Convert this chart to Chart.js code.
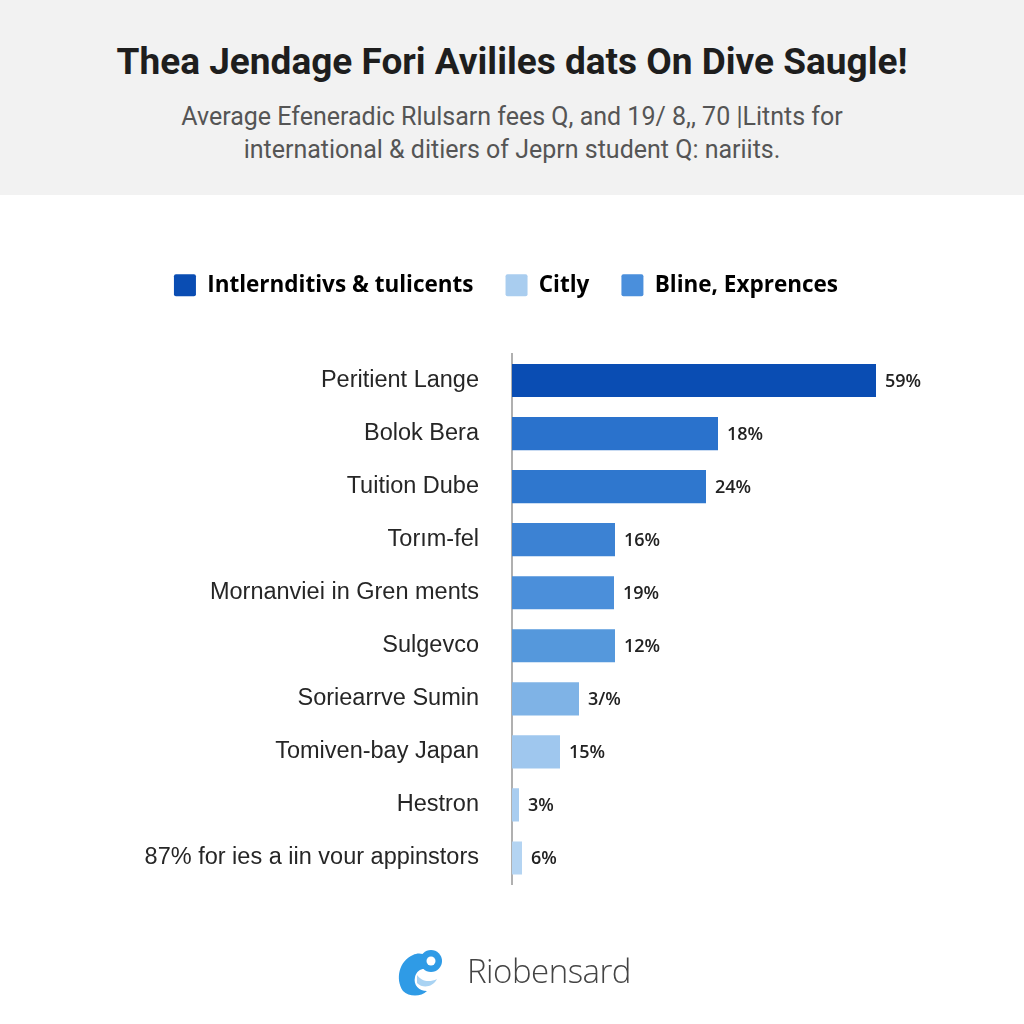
<!DOCTYPE html>
<html>
<head>
<meta charset="utf-8">
<script src="https://cdn.jsdelivr.net/npm/chart.js@4.4.1/dist/chart.umd.min.js"></script>
<style>
  html, body { margin: 0; padding: 0; background: #fff; }
  #page { position: relative; width: 1024px; height: 1024px; overflow: hidden; }
  #header { position: absolute; left: 0; top: 0; width: 1024px; height: 195px; background: #f2f2f2; }
  #title { position: absolute; left: 0; width: 1024px; top: 40px; text-align: center;
    font: bold 37px Roboto, sans-serif; color: #1e1e1e; letter-spacing: 0px; }
  #subtitle { position: absolute; left: 0; width: 1024px; top: 100px; text-align: center;
    font: 25px Roboto, sans-serif; color: #555; line-height: 33px; }
  #chartBox { position: absolute; left: 0; top: 0; width: 1024px; height: 1024px; }
  #logo { position: absolute; left: 393px; top: 940px; height: 60px; display: flex; align-items: center; }
  #logo span { font: 300 33px "Open Sans", sans-serif; color: #444; margin-left: 16px; letter-spacing: -0.5px; }
</style>
</head>
<body>
<div id="page">
  <div id="header">
    <div id="title">Thea Jendage Fori Avililes dats On Dive Saugle!</div>
    <div id="subtitle">Average Efeneradic Rlulsarn fees Q, and 19/ 8,, 70 |Litnts for<br>international &amp; ditiers of Jeprn student Q: nariits.</div>
  </div>
  <div id="chartBox"><canvas id="myChart" width="1024" height="1024"></canvas></div>
  <div id="logo">
    <svg width="58" height="58" viewBox="0 0 58 58">
      <path d="M20 14 C6 20 2 38 10 50 C16 56 28 56 34 50 C26 50 20 44 22 36 C24 28 32 26 36 30 L40 22 C34 12 26 11 20 14 Z" fill="#2f9be6"/>
      <circle cx="38" cy="20" r="11" fill="#2f9be6"/>
      <circle cx="38" cy="20" r="4.5" fill="#fff"/>
      <path d="M24 34 C28 40 36 42 44 38 C40 46 30 48 24 42 Z" fill="#a9d3f3"/>
    </svg>
    <span>Riobensard</span>
  </div>
</div>
<script>
// categories, bar lengths and the printed value labels
const categories = ['Peritient Lange', 'Bolok Bera', 'Tuition Dube', 'Torım-fel', 'Mornanviei in Gren ments',
  'Sulgevco', 'Soriearrve Sumin', 'Tomiven-bay Japan', 'Hestron', '87% for ies a iin vour appinstors'];
const barValues = [72.8, 41.2, 38.8, 20.6, 20.4, 20.6, 13.4, 9.6, 1.4, 2.0];
const valueLabels = ['59%', '18%', '24%', '16%', '19%', '12%', '3/%', '15%', '3%', '6%'];
const barColors = ['#0a4db3', '#2a72cc', '#2f77ce', '#3c82d3', '#4b8fda', '#5598dc', '#7fb3e6', '#9fc7ee', '#a9cdf0', '#b4d4f2'];

const legendNames = ['Intlernditivs & tulicents', 'Citly', 'Bline, Exprences'];
const legendColors = ['#0a4db3', '#a9cdef', '#4a8fdc'];

// writes the value text at the end of each bar
const valueText = {
  id: 'valueText',
  afterDatasetsDraw(chart) {
    const ctx = chart.ctx;
    const meta = chart.getDatasetMeta(0);
    ctx.save();
    ctx.font = '600 18px "Open Sans", sans-serif';
    ctx.fillStyle = '#222';
    ctx.textBaseline = 'middle';
    meta.data.forEach((bar, i) => {
      ctx.fillText(valueLabels[i], bar.x + 9, bar.y + 1);
    });
    ctx.restore();
  }
};

const ctx = document.getElementById('myChart').getContext('2d');
const myChart = new Chart(ctx, {
  type: 'bar',
  data: {
    labels: categories,
    datasets: [{
      data: barValues,
      backgroundColor: barColors,
      borderWidth: 0,
      barPercentage: 0.8,
      categoryPercentage: 0.78
    }]
  },
  plugins: [valueText],
  options: {
    indexAxis: 'y',
    responsive: false,
    animation: false,
    layout: { padding: { top: 242, bottom: 139.5, left: 0, right: 12 } },
    plugins: {
      tooltip: { enabled: false },
      legend: {
        display: true,
        position: 'top',
        onClick: null,
        labels: {
          boxWidth: 22,
          boxHeight: 22,
          padding: 32,
          color: '#222',
          font: { family: '"Open Sans", sans-serif', size: 22.5, weight: 'bold' },
          generateLabels: () => legendNames.map((name, i) => ({
            text: name,
            fillStyle: legendColors[i],
            strokeStyle: legendColors[i],
            lineWidth: 0,
            borderRadius: 2,
            hidden: false,
            datasetIndex: 0
          }))
        }
      }
    },
    scales: {
      x: {
        position: 'top',
        min: 0,
        max: 100,
        grid: { display: false },
        border: { display: false },
        ticks: { display: false },
        afterFit: s => { s.height = 47.5; }
      },
      y: {
        grid: { display: false },
        border: { display: true, color: '#b0b0b0', width: 2 },
        ticks: {
          color: '#262626',
          padding: 25,
          font: { family: '"Liberation Sans", Arial, sans-serif', size: 23.5 }
        },
        afterFit: s => { s.width = 512; }
      }
    }
  }
});
</script>
</body>
</html>
